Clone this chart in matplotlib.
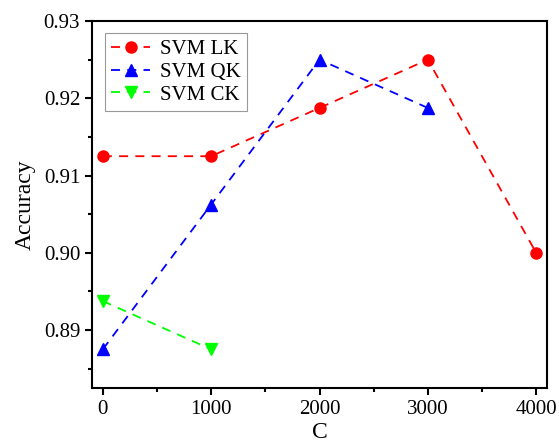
import numpy as np
import matplotlib
matplotlib.use('Agg')
import matplotlib.pyplot as plt
from matplotlib.ticker import MultipleLocator

plt.rcParams['font.family'] = 'Liberation Serif'

C = [0, 1000, 2000, 3000, 4000]
acc_lk = [0.9125, 0.9125, 0.91875, 0.925, 0.900]
C_qk = [0, 1000, 2000, 3000]
acc_qk = [0.8875, 0.90625, 0.925, 0.91875]
C_ck = [0, 1000]
acc_ck = [0.89375, 0.8875]

fig = plt.figure(figsize=(5.59, 4.48), dpi=100)
ax = fig.add_axes([92/559, 1 - 388/448, (547 - 92)/559, (388 - 21)/448])

ax.plot(C, acc_lk, color='red', marker='o', markersize=8, lw=1.3, label='SVM LK', dashes=(5, 4))
ax.plot(C_qk, acc_qk, color='blue', marker='^', markersize=8, lw=1.3, label='SVM QK', dashes=(5, 4))
ax.plot(C_ck, acc_ck, color='#00ff00', marker='v', markersize=8, lw=1.3, label='SVM CK', dashes=(5, 4))

ax.set_xlim(-100, 4100)
ax.set_ylim(0.8825, 0.93)
ax.xaxis.set_major_locator(MultipleLocator(1000))
ax.xaxis.set_minor_locator(MultipleLocator(500))
ax.yaxis.set_major_locator(MultipleLocator(0.01))
ax.yaxis.set_minor_locator(MultipleLocator(0.005))
ax.yaxis.set_major_formatter(plt.FormatStrFormatter('%.2f'))

for s in ax.spines.values():
    s.set_linewidth(1.5)
ax.tick_params(which='major', direction='out', length=5, width=1.5, labelsize=15, top=False, right=False)
ax.tick_params(which='minor', direction='out', length=3, width=1.5, top=False, right=False)

ax.set_xlabel('C', fontsize=17, labelpad=2)
ax.set_ylabel('Accuracy', fontsize=17, labelpad=6)

leg = ax.legend(loc='upper left', fontsize=15, fancybox=False, edgecolor='gray', handlelength=1.9,
                borderaxespad=0.6, labelspacing=0.15, borderpad=0.3, handletextpad=0.45)
leg.get_frame().set_linewidth(0.8)

plt.savefig('out.png', dpi=100)
